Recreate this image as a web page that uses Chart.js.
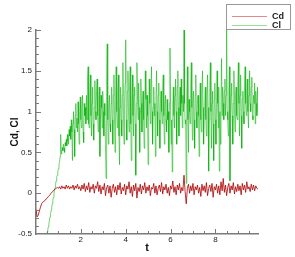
<!DOCTYPE html>
<html>
<head>
<meta charset="utf-8">
<script src="https://cdn.jsdelivr.net/npm/chart.js@4"></script>
<style>
  html, body { margin: 0; padding: 0; background: #fff; }
  #wrap { width: 295px; height: 257px; }
</style>
</head>
<body>
<div id="wrap"><canvas id="c" width="295" height="257"></canvas></div>
<script>
// Cd sampled at t = cdStart + i * cdStep
const cdStart = 0;
const cdStep = 0.05;
const cd = [
  -0.2, -0.29, -0.27, -0.22, -0.17, -0.13, -0.11, -0.1, -0.09, -0.07,
  -0.06, -0.04, -0.03, -0.01, 0.01, 0.02, 0.04, 0.05, 0.06, 0.07,
  0.06, 0.08, 0.05, 0.09, 0.06, 0.08, 0.05, 0.1, 0.06, 0.09,
  0.05, 0.08, 0.06, 0.1, 0.04, 0.09, 0.06, 0.11, 0.05, 0.08,
  0.03, 0.1, 0.05, 0.12, 0.02, 0.09, 0.04, 0.13, 0.01, 0.08,
  0.05, 0.11, 0.0, 0.09, 0.06, 0.14, 0.02, 0.1, -0.01, 0.08,
  0.04, 0.12, -0.03, 0.07, 0.1, 0.0, 0.09, -0.05, 0.06, 0.11,
  0.01, 0.08, -0.02, 0.1, 0.04, 0.13, -0.01, 0.07, 0.03, 0.11,
  -0.02, 0.09, 0.05, 0.14, 0.0, 0.08, -0.04, 0.1, 0.03, 0.12,
  -0.06, 0.07, 0.02, 0.11, -0.01, 0.09, 0.04, 0.13, 0.0, 0.08,
  0.03, 0.1, -0.03, 0.07, 0.05, 0.12, 0.0, 0.09, -0.02, 0.06,
  0.1, 0.02, 0.13, -0.01, 0.08, 0.04, 0.11, 0.0, 0.07, -0.03,
  0.09, 0.05, 0.15, 0.01, 0.08, -0.02, 0.1, 0.04, 0.12, 0.0,
  0.07, 0.03, 0.22, 0.02, -0.13, 0.06, 0.11, 0.0, 0.09, 0.03,
  0.12, -0.02, 0.08, 0.04, 0.1, 0.0, 0.07, -0.04, 0.11, 0.03,
  0.09, 0.01, 0.13, -0.03, 0.06, 0.1, 0.02, 0.12, -0.05, 0.08,
  0.04, 0.11, 0.0, 0.09, -0.02, 0.14, 0.03, 0.18, 0.01, 0.1,
  -0.03, 0.07, 0.12, 0.0, 0.09, 0.04, 0.13, -0.01, 0.08, 0.02,
  0.11, 0.03, 0.09, -0.02, 0.12, 0.04, 0.1, 0.01, 0.14, 0.05,
  0.08, 0.02, 0.11, 0.04, 0.1, 0.03, 0.09, 0.06, 0.05
];

// Cl sampled at t = clStart + i * clStep (earlier values lie below -0.5)
const clStart = 0.35;
const clStep = 0.025;
const cl = [
  -0.72, -0.68, -0.64, -0.6, -0.56, -0.52, -0.48, -0.45, -0.41, -0.37, -0.33, -0.29, -0.25, -0.21, -0.17, -0.13, -0.09, -0.05, -0.01, 0.03,
  0.07, 0.12, 0.15, 0.2, 0.22, 0.27, 0.3, 0.36, 0.38, 0.45, 0.72, 0.48, 0.5, 0.56, 0.52, 0.6, 0.55, 0.5, 0.62, 0.58,
  0.66, 0.58, 0.72, 0.64, 0.6, 0.78, 0.7, 0.82, 0.66, 0.9, 0.75, 0.4, 0.85, 1.0, 0.78, 0.45, 0.95, 1.1, 0.8, 0.92,
  0.75, 1.12, 0.85, 0.6, 1.0, 1.18, 0.9, 0.8, 1.05, 1.2, 0.75, 0.62, 1.1, 0.95, 1.05, 0.85, 1.2, 0.9, 1.4, 1.55,
  0.85, 0.8, 1.2, 1.45, 0.95, 0.7, 1.1, 1.3, 0.85, 0.65, 1.05, 1.38, 1.0, 0.9, 1.25, 1.4, 0.95, 0.75, 1.15, 1.3,
  0.45, 0.9, 1.2, 1.05, 0.8, 1.25, 1.0, 0.7, 1.1, 0.95, 0.55, 0.18, 1.4, 1.83, 0.9, 0.6, 1.05, 1.2, 0.85, 0.75,
  1.1, 1.3, 0.9, 0.6, 1.2, 1.45, 0.95, 0.5, 1.15, 1.55, 1.0, 0.8, 1.25, 1.45, 0.7, 0.35, 1.05, 1.3, 0.9, 0.7,
  1.2, 1.6, 0.95, 0.6, 1.1, 1.35, 1.88, 0.9, 0.65, 1.25, 1.5, 1.0, 0.75, 1.3, 1.55, 0.85, 0.4, 1.1, 1.45, 0.95,
  0.7, 1.2, 1.3, 0.85, 0.22, 1.1, 1.6, 1.2, 0.9, 1.35, 1.05, 0.5, 1.0, 1.4, 1.1, 0.75, 1.15, 1.25, 0.9, 0.55,
  1.05, 1.5, 1.15, 0.8, 1.2, 0.95, 0.35, 1.0, 1.4, 1.1, 0.85, 1.25, 1.55, 1.0, 0.6, 1.05, 1.3, 0.95, 1.1, 0.45,
  1.15, 1.5, 1.0, 0.7, 1.2, 1.35, 0.9, 0.55, 1.1, 1.25, 1.0, 0.85, 1.3, 1.45, 0.95, 0.6, 1.05, 1.2, 0.9, 0.75,
  1.15, 0.9, 1.0, 0.5, 1.1, 1.78, 1.0, 0.6, 0.9, 0.26, 1.05, 1.3, 0.95, 0.8, 1.2, 1.4, 1.0, 0.6, 1.3, 1.5,
  1.05, 0.7, 1.15, 1.3, 0.95, 1.4, 1.1, 0.8, 1.2, 1.0, 2.0, 1.1, 0.85, 0.9, 0.12, 1.2, 1.55, 0.9, 0.5, 1.15,
  1.0, 0.85, 1.3, 1.6, 1.05, 0.65, 1.1, 1.25, 0.9, 0.55, 1.2, 1.45, 1.0, 0.8, 1.15, 1.2, 0.95, 0.45, 1.1, 1.35,
  0.9, 0.75, 1.25, 1.5, 1.05, 0.6, 0.95, 1.1, 1.3, 0.9, 0.7, 1.2, 1.45, 1.05, 0.27, 0.9, 1.3, 1.6, 1.0, 0.55,
  1.1, 1.25, 0.85, 0.4, 1.15, 1.35, 0.9, 0.6, 1.05, 1.5, 1.1, 0.8, 1.3, 0.27, 1.0, 0.6, 1.15, 1.65, 0.95, 1.3,
  1.1, 0.9, 1.25, 1.4, 0.95, 1.2, 2.05, 1.0, 0.9, 0.7, 1.25, 1.55, 0.15, 0.85, 1.2, 1.35, 0.95, 0.6, 1.1, 1.5,
  1.05, 0.75, 1.2, 1.3, 0.95, 0.9, 1.35, 1.6, 1.1, 0.7, 1.2, 1.45, 0.95, 0.55, 1.15, 1.25, 1.0, 0.85, 1.3, 1.55,
  1.1, 0.95, 1.25, 1.4, 1.0, 0.8, 1.2, 1.5, 1.1, 1.0, 1.3, 1.42, 0.95, 0.9, 1.2, 1.1, 1.35, 0.85, 1.25, 1.1,
  0.95, 1.3, 1.0
];

const xTicks = [2, 4, 6, 8];
const yTicks = [-0.5, 0, 0.5, 1, 1.5, 2];
const seriesNames = ['Cd', 'Cl'];
const seriesColors = ['rgba(170,0,0,0.8)', 'rgba(0,175,0,0.55)'];
const legendColors = ['rgb(225,140,140)', 'rgb(150,225,150)'];

function toPoints(vals, start, step) {
  return vals.map((v, i) => ({ x: +(start + i * step).toFixed(3), y: v }));
}

// inward major/minor ticks on the left and bottom axes
const innerTicks = {
  id: 'innerTicks',
  afterDraw(chart) {
    const { ctx, chartArea: a, scales: { x, y } } = chart;
    ctx.save();
    ctx.strokeStyle = '#7a7a7a';
    ctx.lineWidth = 1;
    ctx.beginPath();
    for (let v = 0.5; v < 9.9; v += 0.5) {
      const px = Math.round(x.getPixelForValue(v)) + 0.5;
      const len = Math.abs(v % 2) < 1e-6 ? 5 : 3;
      ctx.moveTo(px, a.bottom);
      ctx.lineTo(px, a.bottom - len);
    }
    for (let v = -0.4; v < 2.001; v += 0.1) {
      const py = Math.round(y.getPixelForValue(v)) + 0.5;
      const major = Math.abs(Math.round(v * 2) - v * 2) < 1e-6;
      ctx.moveTo(a.left, py);
      ctx.lineTo(a.left + (major ? 5 : 3), py);
    }
    ctx.stroke();
    ctx.restore();
  }
};

// legend box at the top right
const boxLegend = {
  id: 'boxLegend',
  afterDraw(chart) {
    const ctx = chart.ctx;
    ctx.save();
    ctx.fillStyle = '#fff';
    ctx.fillRect(226.5, 4.5, 64, 25);
    ctx.strokeStyle = '#999';
    ctx.lineWidth = 1;
    ctx.strokeRect(226.5, 4.5, 64, 25);
    ctx.font = 'bold 9px "Liberation Sans", Arial, sans-serif';
    ctx.textBaseline = 'middle';
    seriesNames.forEach((name, i) => {
      const yy = 16.5 + i * 9;
      ctx.strokeStyle = legendColors[i];
      ctx.beginPath();
      ctx.moveTo(232, yy);
      ctx.lineTo(267, yy);
      ctx.stroke();
      ctx.fillStyle = '#222';
      ctx.fillText(name, 272, yy);
    });
    ctx.restore();
  }
};

const tickFont = { size: 8, family: '"Liberation Sans", Arial' };

new Chart(document.getElementById('c'), {
  type: 'line',
  data: {
    datasets: [
      { label: seriesNames[0], data: toPoints(cd, cdStart, cdStep), borderColor: seriesColors[0], borderWidth: 1, pointRadius: 0, tension: 0 },
      { label: seriesNames[1], data: toPoints(cl, clStart, clStep), borderColor: seriesColors[1], borderWidth: 1, pointRadius: 0, tension: 0 }
    ]
  },
  options: {
    responsive: false,
    animation: false,
    layout: { padding: { left: 0, top: 30, right: 37, bottom: 0 } },
    plugins: { legend: { display: false }, tooltip: { enabled: false } },
    scales: {
      x: {
        type: 'linear',
        min: 0,
        max: 9.9,
        afterBuildTicks: s => { s.ticks = xTicks.map(v => ({ value: v })); },
        afterFit: s => { s.height = 23; },
        grid: { display: false, drawTicks: false },
        border: { display: true, color: '#7a7a7a', width: 1.5 },
        ticks: { color: '#222', font: tickFont, padding: 1, maxRotation: 0, callback: v => String(v) },
        title: { display: true, text: 't', color: '#111', font: { size: 11, weight: 'bold', family: '"Liberation Sans", Arial' }, padding: { top: 0, bottom: 2 } }
      },
      y: {
        min: -0.5,
        max: 2,
        afterBuildTicks: s => { s.ticks = yTicks.map(v => ({ value: v })); },
        afterFit: s => { s.width = 36; },
        grid: { display: false, drawTicks: false },
        border: { display: true, color: '#7a7a7a', width: 1.5 },
        ticks: { color: '#222', font: tickFont, padding: 4, callback: v => String(v) },
        title: { display: true, text: 'Cd, Cl', color: '#111', font: { size: 10, weight: 'bold', family: '"Liberation Sans", Arial' }, padding: { top: 9, bottom: 0 } }
      }
    }
  },
  plugins: [innerTicks, boxLegend]
});
</script>
</body>
</html>
